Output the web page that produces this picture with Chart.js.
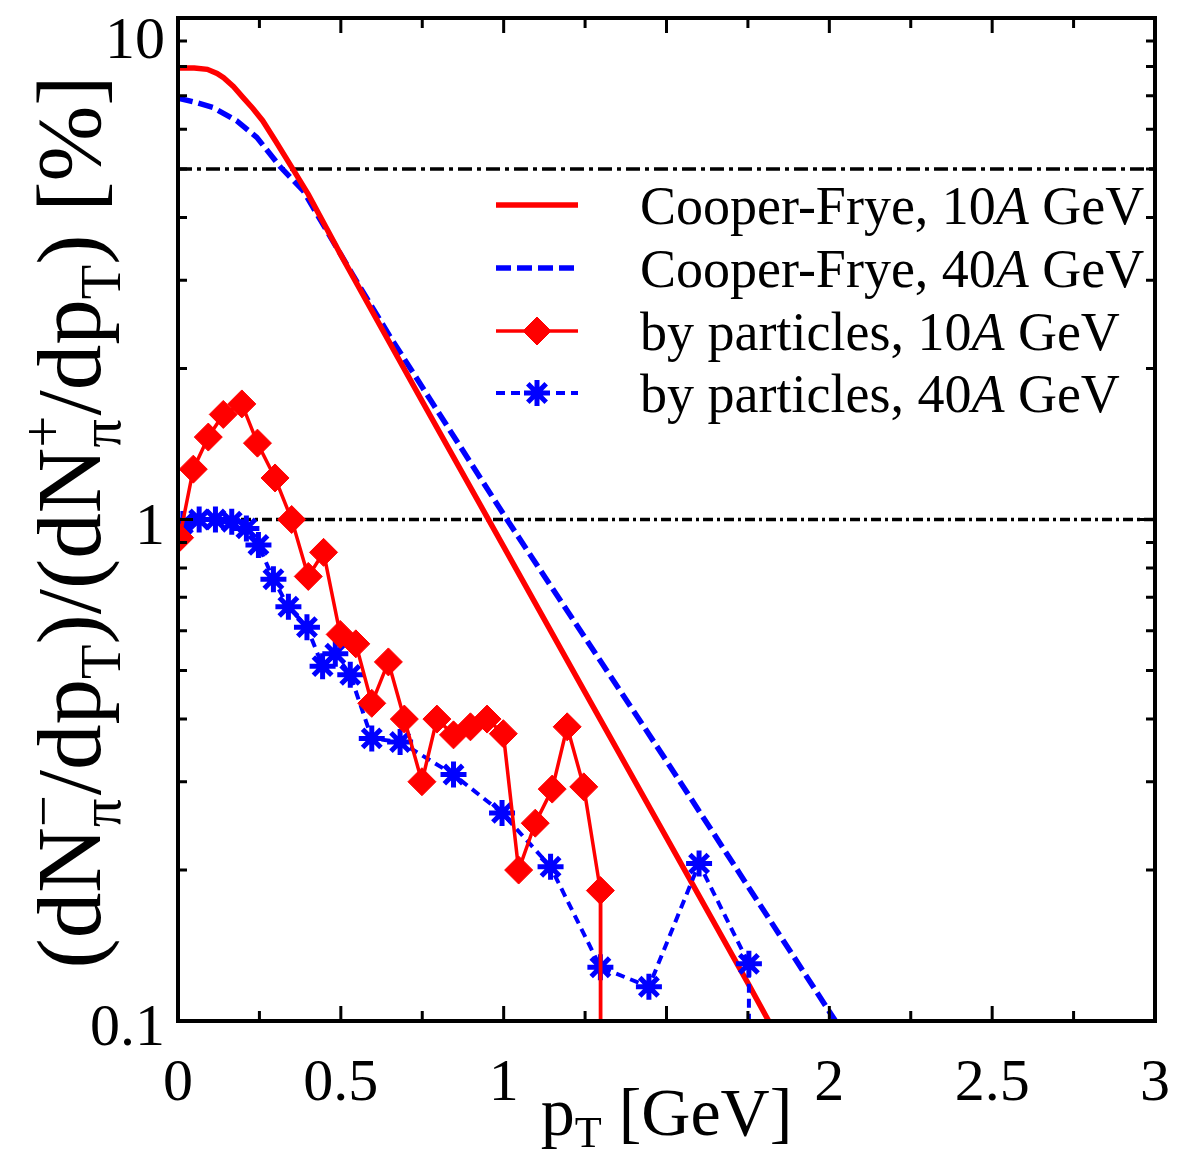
<!DOCTYPE html>
<html><head><meta charset="utf-8">
<script src="https://cdn.jsdelivr.net/npm/chart.js@4.4.1/dist/chart.umd.min.js"></script>
<style>html,body{margin:0;padding:0;background:#fff;}#wrap{width:1190px;height:1156px;}</style>
</head><body><div id="wrap"><canvas id="c" width="1190" height="1156"></canvas></div>
<script>
// ---------------- data ----------------
const cf10X = [0, 0.05, 0.09, 0.12, 0.14, 0.17, 0.2, 0.23, 0.26, 0.3, 0.35, 0.4, 0.5, 0.75, 1.0, 1.25, 1.5, 1.75, 1.9];
const cf10Y = [7.95, 7.95, 7.9, 7.75, 7.6, 7.3, 6.94, 6.6, 6.24, 5.68, 5.03, 4.45, 3.37, 1.72, 0.883, 0.452, 0.232, 0.119, 0.079];
const cf40X = [0, 0.05, 0.107, 0.18, 0.242, 0.314, 0.385, 0.549, 0.652, 1.01, 1.5, 2.1];
const cf40Y = [6.92, 6.8, 6.63, 6.24, 5.78, 5.05, 4.52, 2.98, 2.31, 1.0, 0.33, 0.083];
const p10X = [0.005, 0.047, 0.093, 0.139, 0.196, 0.244, 0.298, 0.349, 0.40, 0.447, 0.498, 0.546, 0.595, 0.646, 0.695, 0.749, 0.795, 0.846, 0.898, 0.949, 0.999, 1.046, 1.097, 1.149, 1.195, 1.246, 1.297, 1.298];
const p10Y = [0.92, 1.26, 1.46, 1.62, 1.70, 1.42, 1.21, 1.0, 0.77, 0.86, 0.59, 0.565, 0.43, 0.52, 0.40, 0.30, 0.40, 0.372, 0.386, 0.40, 0.374, 0.20, 0.248, 0.29, 0.386, 0.293, 0.182, 0.01];
const p40X = [0.015, 0.065, 0.115, 0.165, 0.21, 0.247, 0.293, 0.339, 0.396, 0.444, 0.483, 0.529, 0.595, 0.682, 0.846, 0.995, 1.144, 1.297, 1.446, 1.6, 1.753, 1.754];
const p40Y = [0.98, 1.0, 1.0, 0.99, 0.96, 0.89, 0.76, 0.67, 0.61, 0.51, 0.54, 0.49, 0.366, 0.36, 0.31, 0.26, 0.203, 0.128, 0.117, 0.206, 0.130, 0.01];
const refLevels = [5, 1];
const xTickValues = [0, 0.25, 0.5, 0.75, 1, 1.25, 1.5, 1.75, 2, 2.25, 2.5, 2.75, 3];
const xTickLabels = {0: '0', 0.5: '0.5', 1: '1', 2: '2', 2.5: '2.5', 3: '3'};
const yTickLabels = {0.1: '0.1', 1: '1', 10: '10'};
const seriesNames = ['Cooper-Frye, 10', 'Cooper-Frye, 40', 'by particles, 10', 'by particles, 40'];

const RED = '#ff0000', BLUE = '#0000ff';
const SERIF = '"Liberation Serif", "Times New Roman", serif';
const pts = (xs, ys) => xs.map((x, i) => ({x, y: ys[i]}));

function drawRich(ctx, parts, x, y, B) {
  let cx = x;
  for (const p of parts) {
    const s = (p.s || 1) * B;
    if (p.stack) {
      ctx.font = `${s}px ${SERIF}`;
      let w = 0;
      for (const q of p.stack) { ctx.fillText(q.t, cx, y + q.dy * B); w = Math.max(w, ctx.measureText(q.t).width); }
      cx += w;
    } else {
      ctx.font = `${p.it ? 'italic ' : ''}${s}px ${SERIF}`;
      ctx.fillText(p.t, cx, y + (p.dy || 0) * B);
      cx += ctx.measureText(p.t).width;
    }
  }
  return cx - x;
}
function richWidth(ctx, parts, B) {
  let w = 0;
  for (const p of parts) {
    const s = (p.s || 1) * B;
    ctx.font = `${p.it ? 'italic ' : ''}${s}px ${SERIF}`;
    if (p.stack) w += Math.max(...p.stack.map(q => ctx.measureText(q.t).width));
    else w += ctx.measureText(p.t).width;
  }
  return w;
}

const decor = {
  id: 'decor',
  afterDatasetsDraw(chart) {
    const ctx = chart.ctx, a = chart.chartArea;
    const xs = chart.scales.x, ys = chart.scales.y;
    ctx.save();
    ctx.strokeStyle = '#000'; ctx.fillStyle = '#000';
    // frame
    ctx.lineWidth = 4;
    ctx.strokeRect(a.left, a.top, a.right - a.left, a.bottom - a.top);
    // x ticks (bottom & top, inward)
    ctx.lineWidth = 3;
    for (const v of xTickValues) {
      const px = xs.getPixelForValue(v);
      const len = (Math.abs(v * 2 - Math.round(v * 2)) < 1e-6) ? 15 : 10;
      ctx.beginPath();
      ctx.moveTo(px, a.bottom); ctx.lineTo(px, a.bottom - len);
      ctx.moveTo(px, a.top); ctx.lineTo(px, a.top + len);
      ctx.stroke();
    }
    // y ticks (log)
    for (let d = -1; d <= 0; d++) {
      for (let m = 1; m <= 10; m++) {
        const v = m * Math.pow(10, d);
        const py = ys.getPixelForValue(v);
        const len = (m === 1 || m === 10) ? 15 : 9;
        ctx.beginPath();
        ctx.moveTo(a.left, py); ctx.lineTo(a.left + len, py);
        ctx.moveTo(a.right, py); ctx.lineTo(a.right - len, py);
        ctx.stroke();
      }
    }
    // x tick labels
    ctx.font = `60px ${SERIF}`;
    ctx.textAlign = 'center'; ctx.textBaseline = 'alphabetic';
    for (const v of xTickValues) {
      if (xTickLabels[v] === undefined) continue;
      ctx.fillText(xTickLabels[v], xs.getPixelForValue(v), 1100);
    }
    // y tick labels
    ctx.textAlign = 'right';
    for (const k of Object.keys(yTickLabels)) {
      const v = parseFloat(k);
      let py = ys.getPixelForValue(v) + 24;
      if (v === 10) py = 58;
      ctx.fillText(yTickLabels[k], 165, py);
    }
    // x title
    ctx.textAlign = 'left';
    const xt = [{t: 'p'}, {t: 'T', s: 0.65, dy: 0.18}, {t: ' [GeV]'}];
    const XB = 68;
    const xw = richWidth(ctx, xt, XB);
    drawRich(ctx, xt, (a.left + a.right) / 2 - xw / 2, 1135, XB);
    // y title
    const yt = [{t: '(dN'}, {stack: [{t: '\u2212', dy: -0.42}, {t: '\u03c0', dy: 0.22}], s: 0.62},
      {t: '/dp'}, {t: 'T', s: 0.62, dy: 0.22}, {t: ')/(dN'},
      {stack: [{t: '+', dy: -0.42}, {t: '\u03c0', dy: 0.22}], s: 0.62},
      {t: '/dp'}, {t: 'T', s: 0.62, dy: 0.22}, {t: ') [%]'}];
    const YB = 91;
    const yw = richWidth(ctx, yt, YB);
    ctx.save();
    ctx.translate(100, 522);
    ctx.rotate(-Math.PI / 2);
    drawRich(ctx, yt, -yw / 2, 0, YB);
    ctx.restore();
    // legend
    const LB = 54;
    const rows = [205, 268, 331, 393];
    chart.data.datasets.slice(0, 4).forEach((ds, i) => {
      const ly = rows[i];
      ctx.save();
      ctx.strokeStyle = ds.borderColor; ctx.lineWidth = ds.borderWidth;
      ctx.setLineDash(ds.borderDash || []);
      ctx.beginPath(); ctx.moveTo(496, ly); ctx.lineTo(578, ly); ctx.stroke();
      ctx.setLineDash([]);
      if (ds.pointRadius > 0) {
        ctx.fillStyle = ds.pointBackgroundColor; ctx.strokeStyle = ds.pointBorderColor;
        ctx.lineWidth = ds.pointBorderWidth;
        Chart.helpers.drawPoint(ctx, {pointStyle: ds.pointStyle, radius: ds.pointRadius, borderWidth: ds.pointBorderWidth, rotation: 0}, 537, ly);
      }
      ctx.restore();
      ctx.fillStyle = '#000';
      drawRich(ctx, [{t: seriesNames[i]}, {t: 'A', it: true}, {t: ' GeV'}], 640, ly + 19, LB);
    });
    ctx.restore();
  }
};

new Chart(document.getElementById('c'), {
  type: 'line',
  data: {
    datasets: [
      {label: 'Cooper-Frye, 10A GeV', data: pts(cf10X, cf10Y), borderColor: RED, borderWidth: 5.5, pointRadius: 0, order: 3},
      {label: 'Cooper-Frye, 40A GeV', data: pts(cf40X, cf40Y), borderColor: BLUE, borderWidth: 5.5, borderDash: [15, 6], pointRadius: 0, order: 4},
      {label: 'by particles, 10A GeV', data: pts(p10X, p10Y), borderColor: RED, borderWidth: 3.5, pointStyle: 'rectRot', pointRadius: 14, pointBackgroundColor: RED, pointBorderColor: RED, pointBorderWidth: 1, order: 1},
      {label: 'by particles, 40A GeV', data: pts(p40X, p40Y), borderColor: BLUE, borderWidth: 4, borderDash: [9, 6], pointStyle: 'star', pointRadius: 13, pointBackgroundColor: BLUE, pointBorderColor: BLUE, pointBorderWidth: 5, order: 2},
      {label: 'ref5', data: [{x: 0, y: refLevels[0]}, {x: 3, y: refLevels[0]}], borderColor: '#000', borderWidth: 3.5, borderDash: [14, 5, 4, 5], pointRadius: 0, order: 5},
      {label: 'ref1', data: [{x: 0, y: refLevels[1]}, {x: 3, y: refLevels[1]}], borderColor: '#000', borderWidth: 3.5, borderDash: [10, 4, 3, 4], pointRadius: 0, order: 6}
    ]
  },
  options: {
    responsive: false, animation: false, devicePixelRatio: 1,
    layout: {padding: {left: 178, right: 35, top: 17, bottom: 135}},
    plugins: {legend: {display: false}, tooltip: {enabled: false}},
    elements: {line: {tension: 0, fill: false}},
    scales: {
      x: {type: 'linear', min: 0, max: 3, display: false},
      y: {type: 'logarithmic', min: 0.1, max: 10, display: false}
    }
  },
  plugins: [decor]
});
</script></body></html>
